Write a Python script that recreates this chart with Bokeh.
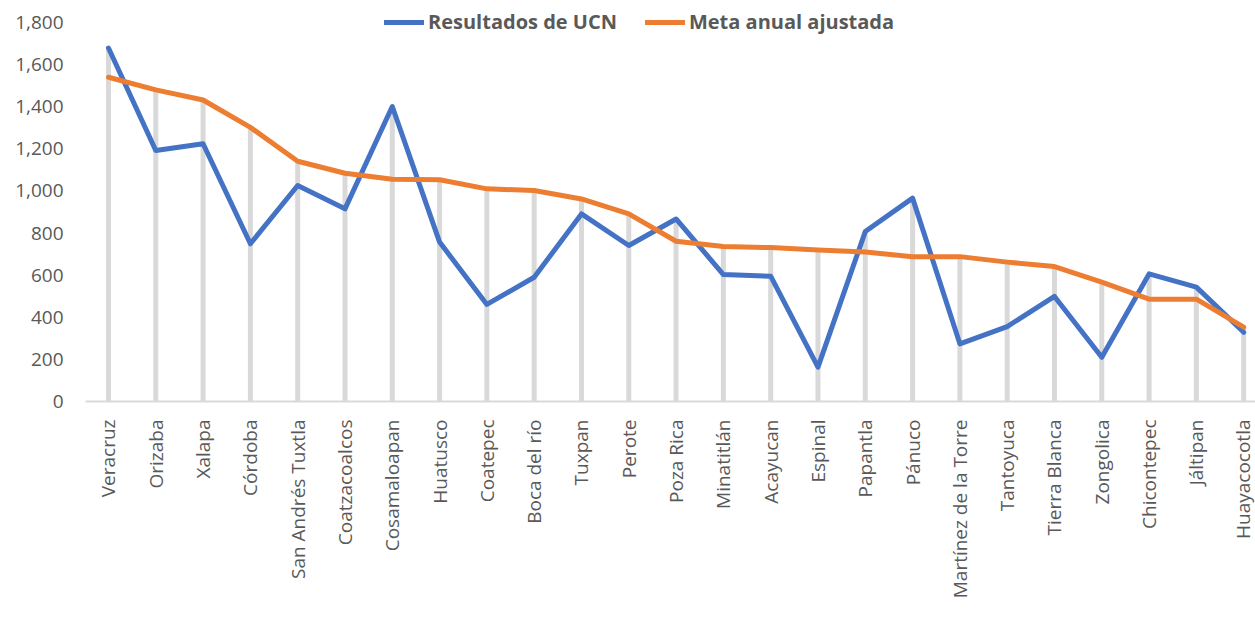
from bokeh.plotting import figure
from bokeh.models import Range1d, FixedTicker, Legend, LegendItem, ColumnDataSource, NumeralTickFormatter
from bokeh.embed import file_html
from bokeh.resources import INLINE

categories = ["Veracruz", "Orizaba", "Xalapa", "Córdoba", "San Andrés Tuxtla",
              "Coatzacoalcos", "Cosamaloapan", "Huatusco", "Coatepec", "Boca del río",
              "Tuxpan", "Perote", "Poza Rica", "Minatitlán", "Acayucan", "Espinal",
              "Papantla", "Pánuco", "Martínez de la Torre", "Tantoyuca", "Tierra Blanca",
              "Zongolica", "Chicontepec", "Jáltipan", "Huayacocotla"]
resultados = [1679, 1192, 1224, 749, 1026, 915, 1401, 757, 461, 590, 891, 741, 867,
              603, 595, 163, 807, 966, 274, 356, 499, 210, 606, 543, 329]
meta = [1540, 1480, 1432, 1302, 1141, 1084, 1056, 1053, 1010, 1002, 962, 891, 761,
        736, 731, 719, 710, 688, 688, 662, 641, 567, 486, 486, 353]
y_ticks = [0, 200, 400, 600, 800, 1000, 1200, 1400, 1600, 1800]

xs = list(range(len(categories)))
tops = [max(a, b) for a, b in zip(resultados, meta)]
src = ColumnDataSource(dict(x=xs, res=resultados, meta=meta, top=tops, zero=[0] * len(xs)))

FONT = "Open Sans"
p = figure(width=1255, height=621, output_backend="svg", toolbar_location=None,
           x_range=Range1d(-0.486, 24.25), y_range=Range1d(0, 1904.5),
           min_border_left=85, min_border_right=0, min_border_top=0, min_border_bottom=220)
p.outline_line_color = None
p.grid.visible = False

p.segment(x0="x", y0="zero", x1="x", y1="top", source=src, line_color="#d9d9d9", line_width=5)
r1 = p.line("x", "res", source=src, line_color="#4472C4", line_width=5, line_join="round", line_cap="round")
r2 = p.line("x", "meta", source=src, line_color="#ED7D31", line_width=5, line_join="round", line_cap="round")

p.yaxis.ticker = FixedTicker(ticks=y_ticks)
p.yaxis.formatter = NumeralTickFormatter(format="0,0")
p.yaxis.axis_line_color = None
p.yaxis.major_tick_line_color = None
p.yaxis.minor_tick_line_color = None
p.yaxis.major_label_standoff = 16
p.yaxis.major_label_text_font = FONT
p.yaxis.major_label_text_font_size = "19px"
p.yaxis.major_label_text_color = "#595959"

p.xaxis.ticker = FixedTicker(ticks=xs)
p.xaxis.major_label_overrides = {i: c for i, c in enumerate(categories)}
p.xaxis.major_label_orientation = 3.14159265 / 2
p.xaxis.axis_line_color = "#d9d9d9"
p.xaxis.axis_line_width = 2
p.xaxis.major_tick_line_color = None
p.xaxis.minor_tick_line_color = None
p.xaxis.major_label_standoff = 12
p.xaxis.major_label_text_font = FONT
p.xaxis.major_label_text_font_size = "19px"
p.xaxis.major_label_text_color = "#595959"

legend = Legend(items=[LegendItem(label="Resultados de UCN", renderers=[r1]),
                       LegendItem(label="Meta anual ajustada", renderers=[r2])],
                orientation="horizontal", location=(299, 366),
                glyph_width=40, glyph_height=20, label_standoff=4, spacing=28,
                padding=0, margin=0, border_line_color=None, background_fill_alpha=0,
                label_text_font=FONT, label_text_font_style="bold",
                label_text_font_size="20px", label_text_color="#595959")
p.add_layout(legend)

open("out.html", "w").write(file_html(p, INLINE))
